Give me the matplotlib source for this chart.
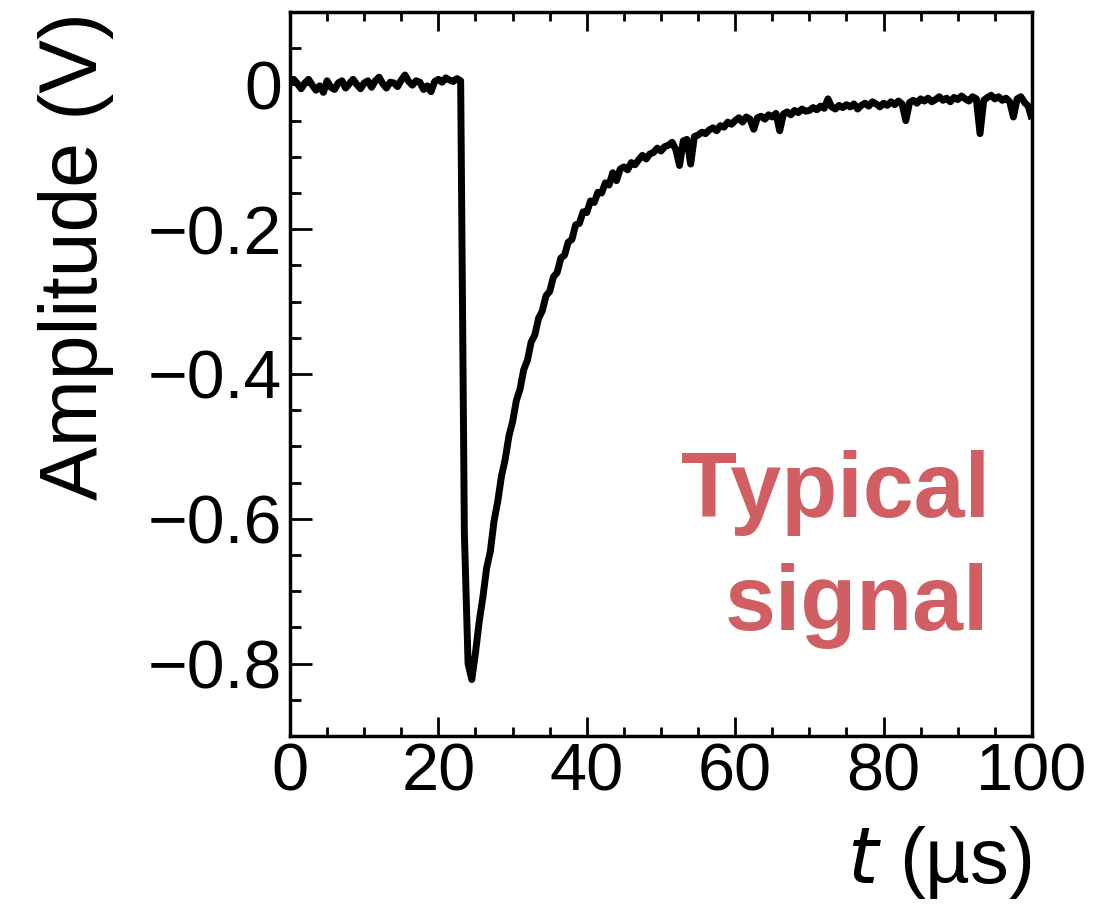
import numpy as np
import matplotlib.pyplot as plt
from matplotlib.ticker import MultipleLocator, FuncFormatter

plt.rcParams['font.family'] = ['Liberation Sans', 'DejaVu Sans']

# time axis, 0.5 us sampling
t_us = np.arange(0, 100.5, 0.5)

# amplitude (V), 10 samples per row (5 us)
amplitude = [
    0.004, 0.007, 0.001, -0.006, 0.002, 0.007, -0.001, -0.008, -0.002, -0.011,
    0.005, -0.004, -0.007, 0.002, 0.005, -0.005, 0.001, 0.007, 0.000, -0.006,
    0.002, 0.005, -0.004, 0.005, 0.010, 0.001, -0.005, 0.003, 0.002, -0.003,
    0.006, 0.013, 0.004, -0.001, 0.005, 0.003, -0.007, -0.002, -0.010, 0.004,
    0.007, 0.003, 0.009, 0.006, 0.004, 0.008, 0.005, -0.620, -0.800, -0.822,
    -0.785, -0.742, -0.708, -0.668, -0.645, -0.603, -0.576, -0.541, -0.518, -0.486,
    -0.466, -0.437, -0.421, -0.394, -0.381, -0.356, -0.346, -0.323, -0.313, -0.292,
    -0.286, -0.266, -0.260, -0.240, -0.236, -0.218, -0.214, -0.194, -0.192, -0.176,
    -0.177, -0.161, -0.163, -0.149, -0.150, -0.136, -0.139, -0.122, -0.133, -0.117,
    -0.114, -0.118, -0.108, -0.111, -0.104, -0.098, -0.103, -0.096, -0.094, -0.088,
    -0.092, -0.086, -0.084, -0.080, -0.090, -0.112, -0.078, -0.076, -0.110, -0.072,
    -0.070, -0.066, -0.068, -0.063, -0.060, -0.064, -0.057, -0.059, -0.052, -0.055,
    -0.050, -0.046, -0.052, -0.045, -0.048, -0.062, -0.046, -0.044, -0.048, -0.042,
    -0.045, -0.040, -0.064, -0.041, -0.038, -0.042, -0.036, -0.039, -0.034, -0.037,
    -0.036, -0.032, -0.035, -0.030, -0.033, -0.020, -0.031, -0.034, -0.029, -0.032,
    -0.028, -0.031, -0.027, -0.034, -0.029, -0.026, -0.030, -0.024, -0.027, -0.031,
    -0.026, -0.029, -0.024, -0.028, -0.023, -0.027, -0.050, -0.025, -0.022, -0.026,
    -0.020, -0.023, -0.019, -0.024, -0.021, -0.017, -0.022, -0.019, -0.024, -0.018,
    -0.021, -0.016, -0.020, -0.023, -0.017, -0.020, -0.068, -0.022, -0.018, -0.015,
    -0.020, -0.017, -0.022, -0.019, -0.024, -0.045, -0.020, -0.017, -0.025, -0.030,
    -0.048,
]

label_lines = ["Typical", "signal"]
label_color = "#d05e62"

fig = plt.figure(figsize=(11.01, 9.24), dpi=100)
ax = fig.add_axes([0.2634, 0.2035, 0.6739, 0.7835])

ax.plot(t_us, amplitude, color="black", lw=5, solid_joinstyle="round",
        solid_capstyle="butt")

ax.set_xlim(0, 100)
ax.set_ylim(-0.9, 0.1)

ax.xaxis.set_major_locator(MultipleLocator(20))
ax.xaxis.set_minor_locator(MultipleLocator(5))
ax.yaxis.set_major_locator(MultipleLocator(0.2))
ax.yaxis.set_minor_locator(MultipleLocator(0.05))


def yfmt(v, pos):
    if abs(v) < 1e-9:
        return "0"
    return f"{v:.1f}".replace("-", "\u2212")


ax.yaxis.set_major_formatter(FuncFormatter(yfmt))
ax.xaxis.set_major_formatter(FuncFormatter(lambda v, p: f"{v:.0f}"))

for s in ax.spines.values():
    s.set_linewidth(2.5)

ax.tick_params(axis="x", which="both", direction="in", top=True, bottom=True,
               width=2, labelsize=48, pad=5)
ax.tick_params(axis="x", which="major", length=13.5)
ax.tick_params(axis="x", which="minor", length=6.5)
ax.tick_params(axis="y", which="both", direction="in", left=True, right=False,
               width=2, labelsize=49, pad=6)
ax.tick_params(axis="y", which="major", length=16)
ax.tick_params(axis="y", which="minor", length=8)

ax.set_xlabel(r"$\it{t}$ (µs)", fontsize=56, loc="right", labelpad=14)
ax.set_ylabel("Amplitude (V)", fontsize=58, loc="top", labelpad=24)

ax.text(0.943, 0.302, label_lines[0], transform=ax.transAxes, ha="right",
        va="baseline", fontsize=66, fontweight="bold", color=label_color)
ax.text(0.943, 0.146, label_lines[1], transform=ax.transAxes, ha="right",
        va="baseline", fontsize=66, fontweight="bold", color=label_color)

fig.savefig("out.png", dpi=100)
